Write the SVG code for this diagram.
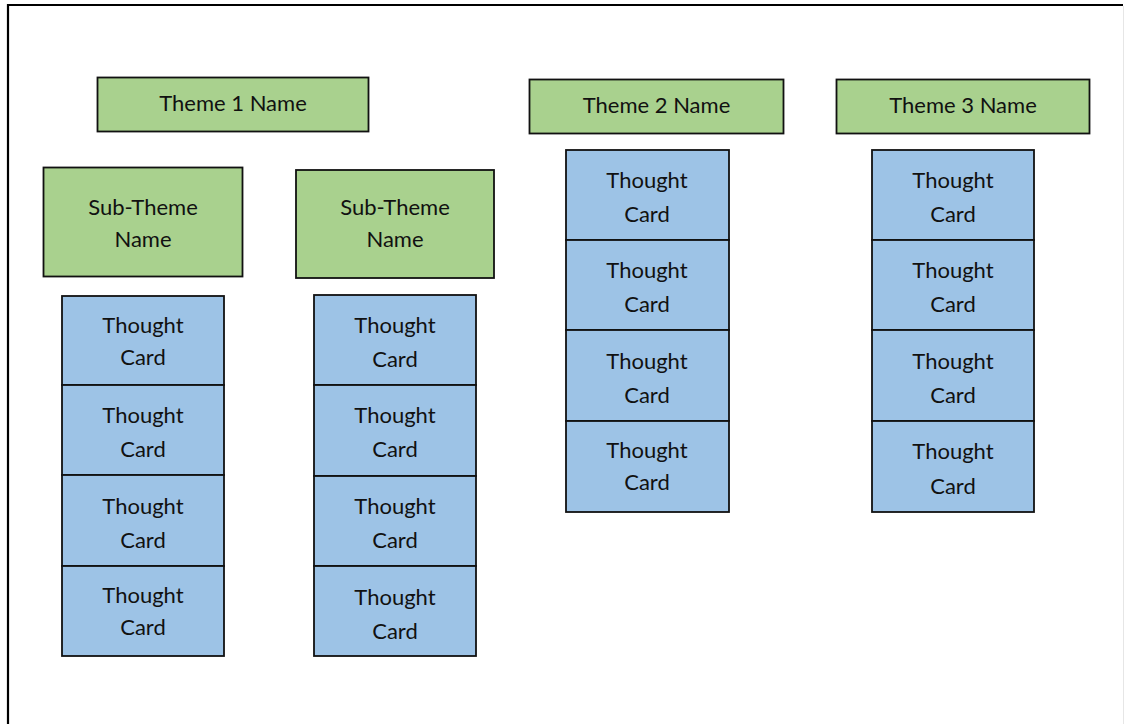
<svg xmlns="http://www.w3.org/2000/svg" width="1124" height="724" viewBox="0 0 1124 724">
  <style>
    .theme { fill: #A9D18E; stroke: #111; stroke-width: 1.8; }
    .card { fill: #9DC3E6; stroke: #111; stroke-width: 1.8; }
    .lbl { font-family: Lato, "Open Sans", "Liberation Sans", sans-serif; font-size: 22px; fill: #111; text-anchor: middle; }
  </style>
  <rect x="0" y="0" width="1124" height="724" fill="#fff"/>
  <!-- frame -->
  <path d="M8 735 V5 H1123" fill="none" stroke="#000" stroke-width="2.2"/>
  <line x1="1123.5" y1="6" x2="1123.5" y2="724" stroke="#e6e6e6" stroke-width="1"/>

  <!-- themes -->
  <g id="theme1"><rect class="theme" x="97.5" y="77.5" width="271" height="54"/><text class="lbl" x="233" y="111">Theme 1 Name</text></g>
  <g id="theme2"><rect class="theme" x="529.5" y="79.5" width="254" height="54"/><text class="lbl" x="656.5" y="113">Theme 2 Name</text></g>
  <g id="theme3"><rect class="theme" x="836.5" y="79.5" width="253" height="54"/><text class="lbl" x="963" y="113">Theme 3 Name</text></g>

  <!-- sub-themes -->
  <g id="subtheme1"><rect class="theme" x="43.5" y="167.5" width="199" height="109"/><text class="lbl" x="143" y="215">Sub-Theme</text><text class="lbl" x="143" y="247">Name</text></g>
  <g id="subtheme2"><rect class="theme" x="296" y="170" width="198" height="108"/><text class="lbl" x="395" y="215">Sub-Theme</text><text class="lbl" x="395" y="247">Name</text></g>

  <!-- column 1 cards -->
  <g id="c1-1"><rect class="card" x="62" y="296" width="162" height="89"/><text class="lbl" x="143" y="333">Thought</text><text class="lbl" x="143" y="365">Card</text></g>
  <g id="c1-2"><rect class="card" x="62" y="385" width="162" height="90"/><text class="lbl" x="143" y="423">Thought</text><text class="lbl" x="143" y="457">Card</text></g>
  <g id="c1-3"><rect class="card" x="62" y="475" width="162" height="91"/><text class="lbl" x="143" y="514">Thought</text><text class="lbl" x="143" y="548">Card</text></g>
  <g id="c1-4"><rect class="card" x="62" y="566" width="162" height="90"/><text class="lbl" x="143" y="603">Thought</text><text class="lbl" x="143" y="635">Card</text></g>

  <!-- column 2 cards -->
  <g id="c2-1"><rect class="card" x="314" y="295" width="162" height="90"/><text class="lbl" x="395" y="333">Thought</text><text class="lbl" x="395" y="367">Card</text></g>
  <g id="c2-2"><rect class="card" x="314" y="385" width="162" height="91"/><text class="lbl" x="395" y="423">Thought</text><text class="lbl" x="395" y="457">Card</text></g>
  <g id="c2-3"><rect class="card" x="314" y="476" width="162" height="90"/><text class="lbl" x="395" y="514">Thought</text><text class="lbl" x="395" y="548">Card</text></g>
  <g id="c2-4"><rect class="card" x="314" y="566" width="162" height="90"/><text class="lbl" x="395" y="605">Thought</text><text class="lbl" x="395" y="639">Card</text></g>

  <!-- column 3 cards -->
  <g id="c3-1"><rect class="card" x="566" y="150" width="163" height="90"/><text class="lbl" x="647" y="188">Thought</text><text class="lbl" x="647" y="222">Card</text></g>
  <g id="c3-2"><rect class="card" x="566" y="240" width="163" height="90"/><text class="lbl" x="647" y="278">Thought</text><text class="lbl" x="647" y="312">Card</text></g>
  <g id="c3-3"><rect class="card" x="566" y="330" width="163" height="91"/><text class="lbl" x="647" y="369">Thought</text><text class="lbl" x="647" y="403">Card</text></g>
  <g id="c3-4"><rect class="card" x="566" y="421" width="163" height="91"/><text class="lbl" x="647" y="458">Thought</text><text class="lbl" x="647" y="490">Card</text></g>

  <!-- column 4 cards -->
  <g id="c4-1"><rect class="card" x="872" y="150" width="162" height="90"/><text class="lbl" x="953" y="188">Thought</text><text class="lbl" x="953" y="222">Card</text></g>
  <g id="c4-2"><rect class="card" x="872" y="240" width="162" height="90"/><text class="lbl" x="953" y="278">Thought</text><text class="lbl" x="953" y="312">Card</text></g>
  <g id="c4-3"><rect class="card" x="872" y="330" width="162" height="91"/><text class="lbl" x="953" y="369">Thought</text><text class="lbl" x="953" y="403">Card</text></g>
  <g id="c4-4"><rect class="card" x="872" y="421" width="162" height="91"/><text class="lbl" x="953" y="459">Thought</text><text class="lbl" x="953" y="494">Card</text></g>

  <!-- no connectors in this layout -->
  <g id="connectors"/>
</svg>
